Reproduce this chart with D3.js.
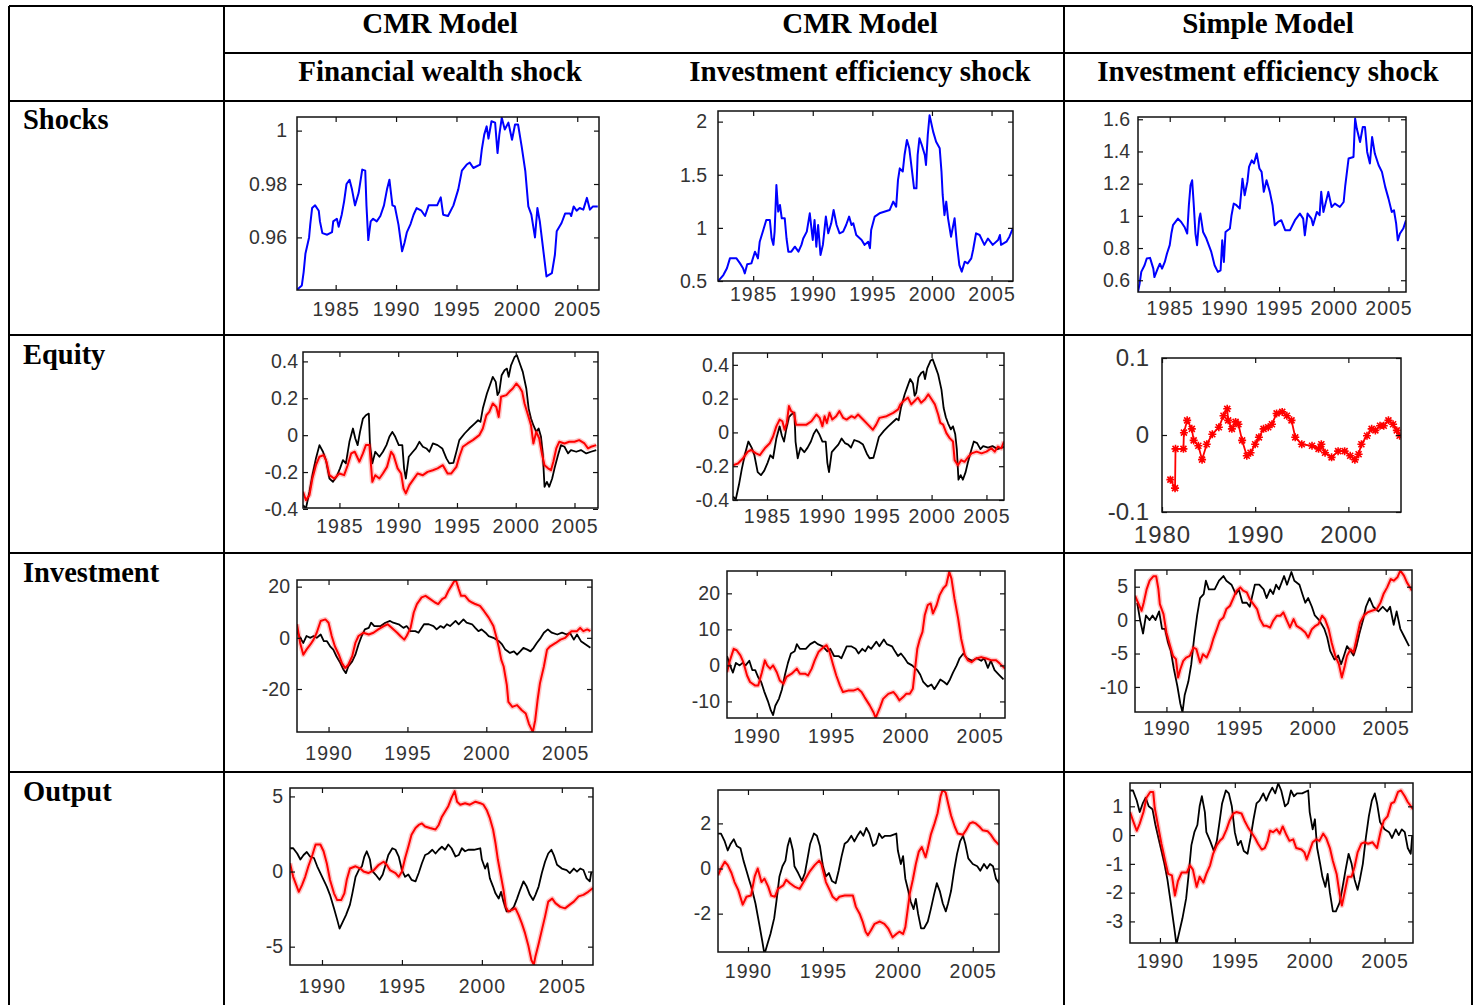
<!DOCTYPE html>
<html><head><meta charset="utf-8">
<script src="https://cdn.jsdelivr.net/npm/d3@7"></script>
<style>body{margin:0;background:#fff}</style>
</head><body>
<script>
// ---------------- DATA ----------------
const columnModels = ["CMR Model", "CMR Model", "Simple Model"];
const columnShocks = ["Financial wealth shock", "Investment efficiency shock", "Investment efficiency shock"];
const rowLabels = ["Shocks", "Equity", "Investment", "Output"];

const yearTicksShock = [1985, 1990, 1995, 2000, 2005];
const yearTicksMacro = [1990, 1995, 2000, 2005];
const yearTicksSimpleEquity = [1980, 1990, 2000];

// Shock series (blue)
const shockFinancialCMR = [[1981.8,.9404],[1982.2,.942],[1982.35,.947],[1982.5,.954],[1982.8,.960],[1982.9,.965],[1983.05,.971],[1983.3,.972],[1983.6,.970],[1983.7,.966],[1983.9,.9616],[1984.3,.961],[1984.7,.962],[1984.8,.966],[1985.1,.967],[1985.25,.964],[1985.5,.9685],[1985.7,.9735],[1985.9,.980],[1986.15,.9816],[1986.35,.978],[1986.6,.972],[1986.9,.9766],[1987.2,.9854],[1987.45,.985],[1987.55,.972],[1987.7,.959],[1987.9,.966],[1988.1,.967],[1988.4,.966],[1988.7,.968],[1989,.972],[1989.25,.978],[1989.45,.9816],[1989.7,.972],[1989.9,.9716],[1990.2,.9648],[1990.5,.9548],[1990.7,.958],[1990.9,.962],[1991.2,.965],[1991.45,.9685],[1991.7,.971],[1992.1,.970],[1992.4,.968],[1992.7,.972],[1993.4,.972],[1993.7,.975],[1993.9,.9685],[1994.3,.968],[1994.75,.972],[1995.15,.978],[1995.45,.985],[1995.85,.9873],[1996.1,.988],[1996.4,.986],[1996.95,.9873],[1997.1,.993],[1997.3,.9985],[1997.5,1.0016],[1997.65,.997],[1997.9,1.0035],[1998.2,1.003],[1998.4,.9916],[1998.55,.9985],[1998.75,1.0048],[1999,1.0004],[1999.3,1.003],[1999.6,.9966],[1999.85,1.0023],[2000.1,1.0023],[2000.4,.994],[2000.7,.9848],[2000.95,.9716],[2001.2,.9685],[2001.5,.960],[2001.7,.971],[2001.9,.966],[2002.2,.9548],[2002.45,.9454],[2002.9,.9466],[2003.15,.9535],[2003.3,.9623],[2003.7,.9654],[2004,.969],[2004.4,.969],[2004.5,.968],[2004.7,.9716],[2004.95,.970],[2005.2,.971],[2005.5,.9704],[2005.8,.9748],[2006.05,.9704],[2006.3,.9716],[2006.7,.9716]];

const shockInvestCMR = [[1982.07,.5],[1982.5,.556],[1982.8,.62],[1983.05,.713],[1983.6,.713],[1983.9,.666],[1984.15,.62],[1984.3,.572],[1984.5,.657],[1984.85,.666],[1985.15,.776],[1985.4,.713],[1985.55,.87],[1985.85,.98],[1986.1,1.074],[1986.4,1.074],[1986.55,.9],[1986.7,.84],[1986.8,.965],[1986.95,1.404],[1987.1,1.153],[1987.25,1.215],[1987.4,1.09],[1987.65,1.09],[1987.8,.9],[1987.95,.776],[1988.2,.776],[1988.5,.823],[1988.8,.776],[1989.05,.84],[1989.2,.9],[1989.5,.965],[1989.75,1.137],[1990,.886],[1990.15,1.074],[1990.3,.823],[1990.45,1.027],[1990.65,.745],[1990.85,.84],[1991.1,1.106],[1991.3,.949],[1991.55,1.043],[1991.75,1.168],[1992,1.027],[1992.25,.949],[1992.55,.965],[1992.8,1.027],[1993.05,1.106],[1993.25,1.027],[1993.4,1.043],[1993.65,.933],[1994.1,.886],[1994.35,.84],[1994.65,.87],[1994.8,.808],[1994.9,.98],[1995.2,1.106],[1995.6,1.137],[1996.45,1.168],[1996.75,1.247],[1997,1.2],[1997.15,1.45],[1997.3,1.56],[1997.55,1.53],[1997.7,1.686],[1997.9,1.827],[1998.1,1.749],[1998.3,1.56],[1998.5,1.372],[1998.7,1.372],[1998.8,1.686],[1998.95,1.843],[1999.15,1.78],[1999.4,1.686],[1999.5,1.592],[1999.65,1.874],[1999.8,2.06],[2000.1,1.906],[2000.35,1.81],[2000.65,1.749],[2000.8,1.53],[2000.9,1.31],[2001.05,1.12],[2001.2,1.247],[2001.35,1.09],[2001.6,.917],[2001.9,1.09],[2002.1,.84],[2002.3,.65],[2002.5,.588],[2002.75,.682],[2003,.666],[2003.3,.713],[2003.45,.792],[2003.7,.949],[2004,.933],[2004.4,.84],[2004.7,.9],[2005.1,.84],[2005.55,.886],[2005.7,.933],[2005.8,.84],[2006.25,.87],[2006.5,.917],[2006.8,1.0]];

const shockInvestSimple = [[1982.1,.527],[1982.25,.58],[1982.4,.652],[1982.7,.693],[1982.9,.735],[1983.2,.739],[1983.5,.672],[1983.6,.62],[1983.9,.672],[1984.1,.703],[1984.3,.672],[1984.55,.714],[1984.75,.766],[1985,.818],[1985.15,.89],[1985.3,.942],[1985.75,.983],[1986.05,.962],[1986.35,.931],[1986.6,.89],[1986.75,1.066],[1986.9,1.19],[1987.05,1.221],[1987.2,1.066],[1987.35,.89],[1987.5,.818],[1987.7,.983],[1987.8,1.014],[1988.05,.9],[1988.35,.859],[1988.8,.776],[1989.1,.693],[1989.4,.652],[1989.65,.662],[1989.8,.848],[1989.95,.714],[1990.1,.9],[1990.5,.921],[1990.65,1.004],[1990.85,1.076],[1991.1,1.066],[1991.4,1.045],[1991.65,1.231],[1991.85,1.128],[1992.1,1.211],[1992.25,1.304],[1992.5,1.345],[1992.7,1.325],[1992.95,1.387],[1993.2,1.294],[1993.4,1.273],[1993.6,1.149],[1993.85,1.221],[1994.15,1.149],[1994.4,1.066],[1994.6,.942],[1994.9,.962],[1995.2,.973],[1995.55,.911],[1996,.911],[1996.45,.973],[1996.9,1.014],[1997.2,.983],[1997.35,.879],[1997.6,1.014],[1997.95,.983],[1998.1,.942],[1998.45,1.024],[1998.7,1.004],[1998.85,1.149],[1999.05,1.024],[1999.35,1.107],[1999.5,1.149],[1999.8,1.055],[2000.1,1.076],[2000.55,1.055],[2000.9,1.086],[2001.05,1.19],[2001.35,1.356],[2001.8,1.366],[2001.9,1.532],[2001.95,1.604],[2002.1,1.542],[2002.4,1.459],[2002.65,1.552],[2002.85,1.552],[2003.05,1.397],[2003.3,1.325],[2003.5,1.49],[2003.75,1.387],[2004.1,1.314],[2004.4,1.273],[2004.7,1.18],[2005,1.107],[2005.3,1.024],[2005.5,1.035],[2005.7,.952],[2005.85,.848],[2006.05,.89],[2006.35,.921],[2006.6,.973]];

// Equity: data (black) and model responses (red)
const equityData = [[1981.9,-.379],[1982.15,-.397],[1982.45,-.307],[1982.7,-.217],[1983,-.126],[1983.3,-.054],[1983.6,-.09],[1983.85,-.135],[1984.15,-.235],[1984.45,-.253],[1984.75,-.226],[1985.05,-.18],[1985.3,-.135],[1985.55,-.153],[1985.85,-.036],[1986.15,.036],[1986.35,-.018],[1986.55,-.054],[1986.75,.018],[1987,.09],[1987.25,.108],[1987.5,.117],[1987.6,-.054],[1987.8,-.153],[1988.05,-.09],[1988.4,-.117],[1988.7,-.09],[1989,-.054],[1989.25,-.009],[1989.5,.018],[1989.75,-.009],[1990.05,-.054],[1990.35,-.054],[1990.5,-.18],[1990.65,-.235],[1990.9,-.117],[1991.25,-.09],[1991.5,-.072],[1991.8,-.036],[1992.1,-.063],[1992.4,-.072],[1992.65,-.09],[1992.95,-.045],[1993.35,-.054],[1993.75,-.072],[1994.1,-.126],[1994.35,-.153],[1994.7,-.15],[1994.95,-.09],[1995.2,-.027],[1995.65,.009],[1996.05,.036],[1996.5,.063],[1996.8,.081],[1997,.072],[1997.2,.144],[1997.55,.226],[1997.8,.271],[1998.05,.316],[1998.3,.289],[1998.45,.217],[1998.6,.235],[1998.8,.325],[1999.05,.352],[1999.25,.361],[1999.4,.316],[1999.6,.379],[1999.9,.424],[2000.1,.433],[2000.4,.379],[2000.6,.343],[2000.9,.253],[2001.1,.144],[2001.3,.09],[2001.5,.054],[2001.75,.018],[2001.95,.036],[2002.15,-.009],[2002.3,-.099],[2002.45,-.28],[2002.65,-.253],[2002.85,-.28],[2003.1,-.235],[2003.3,-.18],[2003.6,-.108],[2003.85,-.054],[2004.15,-.063],[2004.45,-.099],[2004.7,-.081],[2005.15,-.09],[2005.55,-.081],[2006,-.099],[2006.4,-.09],[2006.85,-.081]];

const equityFinancialCMR = [[1981.9,-.307],[1982.15,-.352],[1982.45,-.325],[1982.7,-.235],[1983,-.163],[1983.3,-.117],[1983.65,-.108],[1983.9,-.144],[1984.15,-.217],[1984.55,-.235],[1985,-.208],[1985.4,-.217],[1985.7,-.163],[1986,-.099],[1986.3,-.09],[1986.5,-.117],[1986.7,-.144],[1987,-.099],[1987.25,-.054],[1987.55,-.054],[1987.8,-.253],[1988.05,-.217],[1988.4,-.235],[1988.7,-.208],[1989.05,-.172],[1989.4,-.09],[1989.6,-.108],[1989.95,-.18],[1990.25,-.208],[1990.45,-.289],[1990.65,-.316],[1990.95,-.271],[1991.25,-.244],[1991.65,-.208],[1992.1,-.217],[1992.5,-.199],[1992.95,-.19],[1993.35,-.18],[1993.8,-.163],[1994.2,-.208],[1994.5,-.208],[1994.95,-.172],[1995.2,-.117],[1995.5,-.063],[1995.9,-.045],[1996.35,-.027],[1996.9,0],[1997.2,.036],[1997.5,.108],[1997.75,.126],[1998.05,.172],[1998.35,.153],[1998.55,.099],[1998.75,.208],[1999.2,.217],[1999.45,.235],[1999.75,.253],[2000.05,.28],[2000.3,.262],[2000.55,.235],[2000.75,.172],[2001.05,.108],[2001.3,.054],[2001.5,-.045],[2001.75,.018],[2002,-.018],[2002.25,-.108],[2002.45,-.163],[2002.75,-.18],[2003,-.19],[2003.2,-.144],[2003.45,-.072],[2003.7,-.036],[2004.15,-.045],[2004.55,-.036],[2005,-.036],[2005.4,-.027],[2005.85,-.045],[2006.15,-.072],[2006.4,-.063],[2006.85,-.054]];

const equityInvestCMR = [[1981.9,-.194],[1982.35,-.184],[1982.8,-.154],[1983.25,-.114],[1983.55,-.104],[1984,-.124],[1984.35,-.134],[1984.8,-.094],[1985.25,-.064],[1985.55,-.024],[1985.85,.036],[1986.15,.076],[1986.4,.066],[1986.6,.016],[1986.8,.056],[1987,.156],[1987.2,.126],[1987.45,.116],[1987.65,.046],[1988.1,.046],[1988.6,.046],[1989.05,.066],[1989.5,.106],[1989.8,.086],[1990.05,.036],[1990.25,.096],[1990.45,.056],[1990.7,.116],[1990.95,.076],[1991.3,.096],[1991.6,.126],[1991.95,.086],[1992.25,.076],[1992.7,.096],[1993,.086],[1993.3,.106],[1993.75,.076],[1994.2,.046],[1994.65,.016],[1994.95,.046],[1995.25,.086],[1995.9,.096],[1996.5,.116],[1996.95,.136],[1997.15,.166],[1997.45,.186],[1997.85,.206],[1998.15,.166],[1998.45,.186],[1998.75,.206],[1999.05,.176],[1999.4,.196],[1999.7,.226],[2000,.196],[2000.3,.166],[2000.6,.106],[2000.8,.056],[2001.05,.046],[2001.35,-.004],[2001.65,-.034],[2001.95,-.054],[2002.1,-.164],[2002.4,-.194],[2002.7,-.164],[2003,-.174],[2003.35,-.144],[2003.65,-.124],[2004.1,-.114],[2004.55,-.124],[2005,-.114],[2005.45,-.094],[2005.75,-.114],[2006.05,-.084],[2006.35,-.094],[2006.6,-.054]];

const equitySimple = [[1980.9,-.058],[1981.4,-.069],[1981.45,-.018],[1982.3,-.018],[1982.35,.003],[1982.7,.019],[1983.2,.008],[1983.4,-.007],[1983.9,-.014],[1984.3,-.032],[1984.8,-.012],[1985.4,.001],[1986.1,.01],[1986.6,.025],[1987,.034],[1987.1,.019],[1987.5,.008],[1987.9,.017],[1988.2,.014],[1988.6,-.007],[1989.1,-.027],[1989.5,-.023],[1990,-.012],[1990.4,-.003],[1990.9,.008],[1991.4,.01],[1991.8,.014],[1992.3,.028],[1992.9,.03],[1993.4,.025],[1993.9,.019],[1994.3,-.003],[1995,-.012],[1996.1,-.014],[1996.8,-.018],[1997.1,-.012],[1997.5,-.023],[1998.2,-.029],[1998.9,-.021],[1999.6,-.021],[2000.2,-.027],[2000.7,-.032],[2001.1,-.025],[2001.4,-.012],[2002,-.001],[2002.5,.008],[2002.9,.006],[2003.4,.012],[2003.8,.012],[2004.3,.019],[2004.8,.014],[2005.2,.006],[2005.5,-.001]];

// Investment: data (black) and model responses (red)
const investmentData = [[1988,2.6],[1988.2,0],[1988.4,-2],[1988.6,.7],[1988.85,0],[1989.05,.7],[1989.25,0],[1989.5,1.3],[1989.7,-1.3],[1989.9,-1.3],[1990.1,-3.3],[1990.3,-4.6],[1990.5,-7.2],[1990.75,-9.9],[1990.95,-12.5],[1991.1,-13.8],[1991.25,-11.2],[1991.5,-9.2],[1991.7,-6.6],[1991.9,-2.6],[1992.1,.7],[1992.3,3.3],[1992.55,3.9],[1992.7,5.9],[1992.9,4.6],[1993.3,4.6],[1993.6,5.9],[1993.9,6.6],[1994.1,5.9],[1994.45,5.3],[1994.75,3.9],[1994.95,4.6],[1995.2,2.6],[1995.5,2.6],[1995.7,2],[1996.05,5.3],[1996.35,5.3],[1996.65,4.6],[1996.85,3.3],[1997.1,4.6],[1997.3,3.9],[1997.5,5.3],[1997.7,4.6],[1998.05,6.6],[1998.25,5.3],[1998.55,7.2],[1998.75,5.9],[1999.1,5.3],[1999.3,3.9],[1999.5,2.6],[1999.7,3.3],[1999.95,2],[2000.15,.7],[2000.45,0],[2000.8,-1.3],[2001,-2.6],[2001.2,-4.6],[2001.5,-5.9],[2001.75,-5.3],[2001.95,-6.6],[2002.15,-5.3],[2002.35,-3.9],[2002.6,-4.6],[2002.8,-5.3],[2003,-3.9],[2003.2,-2],[2003.45,0],[2003.65,2],[2003.9,3.3],[2004.15,2],[2004.5,1.3],[2004.8,2],[2005.1,1.3],[2005.3,2],[2005.55,-.7],[2005.75,1.3],[2006,-1.3],[2006.3,-2.6],[2006.6,-3.9]];

const investmentFinancialCMR = [[1988,5.3],[1988.2,-2],[1988.4,-6.6],[1988.6,-4.6],[1988.85,-2.6],[1989.05,-.7],[1989.25,2],[1989.5,6.6],[1989.8,7.2],[1990,5.9],[1990.2,.7],[1990.4,-3.3],[1990.65,-6.6],[1990.85,-9.9],[1991.05,-11.8],[1991.25,-10.5],[1991.5,-7.2],[1991.7,-2],[1991.9,.7],[1992.2,2],[1992.55,1.3],[1992.85,2],[1993.15,3.3],[1993.5,4.6],[1993.75,5.3],[1994,3.9],[1994.35,2],[1994.55,.7],[1994.8,-.7],[1994.95,.7],[1995.2,3.9],[1995.4,9.9],[1995.6,13.2],[1995.9,15.8],[1996.15,16.4],[1996.45,15.1],[1996.75,13.8],[1996.95,13.2],[1997.2,15.1],[1997.4,15.8],[1997.6,18.4],[1997.8,20.4],[1998.05,23],[1998.25,19.1],[1998.4,16.4],[1998.65,16.4],[1998.9,14.5],[1999.1,13.8],[1999.3,13.2],[1999.6,12.5],[1999.85,10.5],[2000.15,7.9],[2000.45,4.6],[2000.65,0],[2000.8,-3.9],[2000.95,-8.6],[2001.1,-11.2],[2001.3,-18.4],[2001.4,-25],[2001.65,-27],[2001.95,-26.3],[2002.25,-28.3],[2002.5,-29.6],[2002.7,-33.6],[2002.95,-36.8],[2003.1,-32.2],[2003.25,-24.3],[2003.4,-17.8],[2003.65,-11.2],[2003.85,-4.6],[2004.05,-3.3],[2004.4,-2],[2004.7,-.7],[2005,0],[2005.2,1.3],[2005.4,2.6],[2005.75,2.6],[2005.95,3.9],[2006.15,2.6],[2006.4,3.3],[2006.6,2.6]];

const investmentInvestCMR = [[1988,-1.9],[1988.2,1.4],[1988.45,4.6],[1988.65,4.2],[1988.9,2.8],[1989.1,.9],[1989.35,-2.8],[1989.55,-4.6],[1989.9,-5.6],[1990.1,-5.6],[1990.35,-1.9],[1990.55,1.4],[1990.7,0],[1990.9,-.9],[1991.1,0],[1991.35,-1.9],[1991.55,-4.2],[1991.8,-5.1],[1992,-3.2],[1992.35,-2.3],[1992.7,-.9],[1992.9,-2.3],[1993.25,-2.3],[1993.45,-2.8],[1993.7,-.9],[1993.9,1.4],[1994.15,3.7],[1994.5,5.1],[1994.7,5.6],[1994.9,3.7],[1995.15,0],[1995.35,-2.8],[1995.6,-5.6],[1995.8,-7.4],[1996.15,-7],[1996.5,-7],[1996.8,-6.5],[1997.05,-7.4],[1997.25,-8.8],[1997.6,-11.1],[1997.85,-13],[1998,-14.6],[1998.3,-11.6],[1998.5,-9.3],[1998.85,-7.9],[1999.2,-7.4],[1999.4,-8.4],[1999.6,-9.7],[1999.85,-8.8],[2000.05,-7.9],[2000.3,-7.9],[2000.5,-6.5],[2000.6,-2.8],[2000.8,4.6],[2000.95,7],[2001.15,9.3],[2001.3,13.9],[2001.5,16.7],[2001.7,17.2],[2001.85,14.4],[2002.1,16.7],[2002.3,19.5],[2002.55,21.4],[2002.75,22.3],[2002.95,26],[2003.1,24.1],[2003.3,18.6],[2003.55,13],[2003.75,7.4],[2004,2.8],[2004.2,1.4],[2004.45,.9],[2004.75,1.9],[2005.1,2.3],[2005.45,1.9],[2005.8,1.4],[2006.1,1.4],[2006.35,.5],[2006.7,-.9]];

const investmentSimple = [[1987.85,3.65],[1988.05,2.65],[1988.3,1.4],[1988.45,2.65],[1988.65,4.65],[1988.85,5.9],[1989.1,6.55],[1989.3,6.55],[1989.45,4.65],[1989.55,2.4],[1989.8,.9],[1990,-1.85],[1990.25,-3.85],[1990.45,-5.35],[1990.65,-5.85],[1990.8,-8.6],[1990.95,-7.35],[1991.15,-6.1],[1991.35,-5.6],[1991.6,-5.35],[1991.85,-4.1],[1992.05,-4.35],[1992.3,-6.35],[1992.5,-5.1],[1992.75,-5.6],[1993,-4.35],[1993.2,-2.85],[1993.45,-1.35],[1993.65,-.1],[1993.9,.4],[1994.1,1.65],[1994.35,2.15],[1994.6,3.4],[1994.8,4.4],[1995.05,4.9],[1995.25,4.4],[1995.5,4.15],[1995.7,3.15],[1995.95,2.4],[1996.2,1.65],[1996.4,.15],[1996.65,-.85],[1996.85,-.85],[1997.1,-1.1],[1997.3,-.1],[1997.55,.65],[1997.8,.65],[1998,1.15],[1998.25,-.1],[1998.45,-1.1],[1998.7,.15],[1998.9,-.85],[1999.25,-1.35],[1999.5,-1.85],[1999.7,-2.6],[1999.95,-1.35],[2000.2,-.85],[2000.4,-.6],[2000.65,.65],[2000.85,.15],[2001.1,-1.35],[2001.3,-3.35],[2001.55,-5.35],[2001.8,-6.6],[2002,-8.6],[2002.2,-6.85],[2002.35,-5.35],[2002.6,-4.35],[2002.8,-4.85],[2003.05,-2.35],[2003.25,-.35],[2003.5,.65],[2003.75,1.15],[2004.05,1.4],[2004.4,1.65],[2004.65,2.65],[2004.85,3.9],[2005.1,4.9],[2005.35,6.15],[2005.55,5.9],[2005.8,6.4],[2006,7.4],[2006.25,6.65],[2006.45,5.65],[2006.8,4.4]];

// Output: data (black) and model responses (red)
const outputData = [[1988,1.55],[1988.2,1.55],[1988.45,1.2],[1988.65,.8],[1988.85,1.1],[1989.05,1.3],[1989.25,1],[1989.5,.9],[1989.7,.35],[1989.9,-.1],[1990.1,-.55],[1990.3,-1],[1990.5,-1.55],[1990.75,-2.45],[1990.95,-3.2],[1991.1,-3.8],[1991.3,-3.35],[1991.5,-2.9],[1991.75,-2.2],[1991.9,-1.45],[1992.1,-.35],[1992.3,.1],[1992.5,.35],[1992.65,1],[1992.8,1.35],[1993,.8],[1993.1,.1],[1993.35,-.2],[1993.6,-.55],[1993.8,-.2],[1993.95,.35],[1994.15,1.1],[1994.4,1.55],[1994.6,1.45],[1994.8,1],[1995,.1],[1995.2,-.35],[1995.4,-.2],[1995.6,-.55],[1995.85,-.65],[1996.05,-.1],[1996.25,.55],[1996.45,1.1],[1996.65,1.2],[1996.9,1.45],[1997.1,1.2],[1997.3,1.45],[1997.5,1.65],[1997.7,1.45],[1997.9,1.8],[1998.1,1.55],[1998.35,1],[1998.55,1.1],[1998.75,1.55],[1998.95,1.35],[1999.15,1.45],[1999.5,1.45],[1999.9,1.55],[2000,.8],[2000.2,.2],[2000.35,.55],[2000.5,-.45],[2000.7,-1],[2000.85,-1.45],[2001.05,-1.8],[2001.2,-1.35],[2001.35,-2],[2001.55,-2.65],[2001.75,-2.65],[2002,-2.35],[2002.2,-1.8],[2002.4,-1.2],[2002.6,-.65],[2002.8,-1],[2003,-1.55],[2003.2,-1.9],[2003.35,-1.55],[2003.55,-1],[2003.75,-.1],[2003.95,.65],[2004.15,1.2],[2004.35,1.45],[2004.5,1.1],[2004.7,.45],[2005,.2],[2005.3,.1],[2005.5,-.1],[2005.75,.2],[2005.95,0],[2006.15,.2],[2006.35,.1],[2006.55,-.45],[2006.75,-.65],[2006.85,0]];

const outputFinancialCMR = [[1988,.55],[1988.2,-.35],[1988.55,-1.35],[1988.75,-.9],[1988.95,-.35],[1989.15,.35],[1989.4,1.1],[1989.6,1.8],[1989.9,1.8],[1990.1,1.35],[1990.3,.55],[1990.5,-.55],[1990.75,-1.45],[1990.95,-1.9],[1991.2,-1.9],[1991.4,-1.45],[1991.55,-.55],[1991.75,.2],[1992.1,.35],[1992.4,.2],[1992.6,0],[1992.9,-.1],[1993.25,.1],[1993.55,.45],[1993.85,.65],[1994.05,.45],[1994.25,.1],[1994.6,-.1],[1994.8,-.35],[1995,0],[1995.2,.9],[1995.4,1.65],[1995.6,2.45],[1995.85,2.9],[1996.05,3.1],[1996.25,3.2],[1996.45,3],[1996.75,2.9],[1997.1,2.8],[1997.3,3.1],[1997.5,3.65],[1997.7,4],[1997.9,4.35],[1998.1,4.9],[1998.3,5.35],[1998.45,4.65],[1998.65,4.45],[1998.95,4.55],[1999.25,4.45],[1999.6,4.65],[1999.9,4.55],[2000.1,4.45],[2000.3,4.1],[2000.5,3.55],[2000.7,2.8],[2000.85,1.9],[2001,.8],[2001.2,-.35],[2001.35,-1.2],[2001.5,-2.35],[2001.65,-2.65],[2001.9,-2.55],[2002.1,-2.45],[2002.3,-2.9],[2002.5,-3.45],[2002.7,-4.1],[2002.9,-4.9],[2003.1,-5.9],[2003.25,-6.2],[2003.35,-5.65],[2003.55,-4.8],[2003.75,-3.9],[2003.95,-3],[2004.15,-2],[2004.4,-1.8],[2004.6,-2.1],[2004.9,-2.35],[2005.2,-2.45],[2005.5,-2.2],[2005.75,-2],[2006.05,-1.65],[2006.35,-1.55],[2006.65,-1.35],[2006.95,-1.1]];

const outputInvestCMR = [[1988,-.3],[1988.2,0],[1988.45,.3],[1988.65,.15],[1988.9,-.2],[1989.1,-.6],[1989.35,-.95],[1989.65,-1.6],[1989.9,-1.25],[1990.2,-1.2],[1990.45,-.35],[1990.65,0],[1990.9,-.6],[1991.1,-.45],[1991.35,-.8],[1991.55,-1.2],[1991.8,-1.25],[1992,-.9],[1992.35,-.75],[1992.55,-.5],[1992.8,-.65],[1993.1,-.8],[1993.45,-.9],[1993.8,-.5],[1994.1,-.15],[1994.45,.15],[1994.75,.35],[1994.9,.2],[1995.05,-.2],[1995.2,-.6],[1995.45,-.95],[1995.65,-1.25],[1995.9,-1.4],[1996.1,-1.25],[1996.45,-1.2],[1996.8,-1.2],[1997,-1.2],[1997.2,-1.7],[1997.45,-2],[1997.65,-2.35],[1997.85,-2.8],[1998,-2.95],[1998.2,-2.75],[1998.45,-2.45],[1998.8,-2.35],[1999.1,-2.45],[1999.35,-2.65],[1999.65,-3.05],[1999.9,-2.9],[2000.1,-2.8],[2000.35,-2.9],[2000.5,-2.6],[2000.65,-1.85],[2000.8,-1.1],[2001,-.5],[2001.2,.2],[2001.4,.75],[2001.6,.95],[2001.85,.5],[2002,.9],[2002.2,1.5],[2002.45,2],[2002.65,2.45],[2002.85,3.2],[2003,3.5],[2003.2,3.35],[2003.35,2.9],[2003.55,2.35],[2003.8,1.85],[2004,1.55],[2004.35,1.5],[2004.55,1.7],[2004.8,2],[2005,2.05],[2005.2,2],[2005.45,1.85],[2005.65,1.7],[2006,1.65],[2006.2,1.5],[2006.45,1.25],[2006.75,1.05]];

const outputSimple = [[1988,.8],[1988.2,.5],[1988.45,.15],[1988.65,.4],[1988.9,.8],[1989.1,1.3],[1989.35,1.5],[1989.55,1.5],[1989.65,.95],[1989.9,.25],[1990.1,-.3],[1990.35,-.9],[1990.55,-1.35],[1990.8,-1.4],[1991,-2.1],[1991.2,-1.6],[1991.45,-1.3],[1991.8,-1.3],[1992,-1.05],[1992.2,-1.2],[1992.45,-1.8],[1992.65,-1.45],[1992.9,-1.65],[1993.1,-1.35],[1993.35,-1.05],[1993.55,-.65],[1993.8,-.35],[1994,-.2],[1994.2,-.1],[1994.45,.2],[1994.65,.5],[1994.9,.75],[1995.1,.8],[1995.45,.75],[1995.65,.5],[1995.9,.25],[1996.1,.1],[1996.35,-.1],[1996.55,-.3],[1996.8,-.5],[1997,-.45],[1997.2,-.2],[1997.35,.15],[1997.55,.1],[1997.8,.2],[1998,.05],[1998.2,.3],[1998.45,0],[1998.65,-.2],[1998.9,-.15],[1999.1,-.45],[1999.45,-.5],[1999.65,-.6],[1999.8,-.85],[2000,-.55],[2000.2,-.25],[2000.45,-.15],[2000.65,-.2],[2000.9,.05],[2001.1,-.1],[2001.35,-.45],[2001.55,-.9],[2001.8,-1.35],[2002,-2.05],[2002.15,-2.45],[2002.35,-1.95],[2002.55,-1.45],[2002.8,-1.45],[2003,-1.1],[2003.2,-.6],[2003.45,-.3],[2003.65,-.25],[2003.9,-.3],[2004.2,-.25],[2004.5,-.45],[2004.75,.15],[2004.95,.5],[2005.2,.65],[2005.45,1.1],[2005.65,1.15],[2005.9,1.5],[2006.1,1.55],[2006.35,1.35],[2006.55,1.15],[2006.9,.9]];

// ---------------- DRAWING ----------------
const W = 1479, H = 1005;
const BLUE = "#0000ff", RED = "#ff0000", BLACK = "#000000";
const svg = d3.select("body").append("svg").attr("width", W).attr("height", H).style("display", "block");
svg.append("rect").attr("width", W).attr("height", H).attr("fill", "#fff");

// table grid
const grid = svg.append("g").attr("stroke", "#000").attr("stroke-width", 1.6).attr("shape-rendering", "crispEdges");
[[9, 1472, 6], [224, 1472, 53], [9, 1472, 101], [9, 1472, 335], [9, 1472, 553], [9, 1472, 772]].forEach(([x1, x2, y]) =>
  grid.append("line").attr("x1", x1).attr("x2", x2).attr("y1", y).attr("y2", y));
[[9, 6, 1005], [224, 6, 1005], [1064, 6, 1005], [1472, 6, 1005]].forEach(([x, y1, y2]) =>
  grid.append("line").attr("x1", x).attr("x2", x).attr("y1", y1).attr("y2", y2));

const serif = "'Liberation Serif','Times New Roman',serif";
const headerX = [440, 860, 1268];
columnModels.forEach((t, i) => svg.append("text").attr("x", headerX[i]).attr("y", 33).attr("text-anchor", "middle")
  .attr("font-family", serif).attr("font-weight", "bold").attr("font-size", 29).text(t));
columnShocks.forEach((t, i) => svg.append("text").attr("x", headerX[i]).attr("y", 81).attr("text-anchor", "middle")
  .attr("font-family", serif).attr("font-weight", "bold").attr("font-size", 29).text(t));
const rowY = [129, 364, 582, 801];
rowLabels.forEach((t, i) => svg.append("text").attr("x", 23).attr("y", rowY[i])
  .attr("font-family", serif).attr("font-weight", "bold").attr("font-size", 28.5).text(t));

let clipCount = 0;
function drawPanel(p) {
  const [L, T, R, B] = p.box;
  const x = d3.scaleLinear().domain(p.xDomain).range([L, R]);
  const y = d3.scaleLinear().domain(p.yDomain).range([B, T]);
  const g = svg.append("g");
  const id = "clip" + (clipCount++);
  g.append("clipPath").attr("id", id).append("rect").attr("x", L).attr("y", T).attr("width", R - L).attr("height", B - T);
  const plot = g.append("g").attr("clip-path", `url(#${id})`);
  const line = d3.line().x(d => x(d[0])).y(d => y(d[1]));
  p.series.forEach(s => {
    if (s.halo) plot.append("path").datum(s.data).attr("d", line).attr("fill", "none")
      .attr("stroke", s.color).attr("stroke-opacity", 0.22).attr("stroke-width", 5).attr("stroke-linejoin", "round");
    plot.append("path").datum(s.data).attr("d", line).attr("fill", "none")
      .attr("stroke", s.color).attr("stroke-width", s.width).attr("stroke-linejoin", "round");
    if (s.markers) {
      plot.selectAll(null).data(s.data).join("path")
        .attr("transform", d => `translate(${x(d[0])},${y(d[1])})`)
        .attr("d", "M-4,0H4M0,-4V4M-3,-3L3,3M-3,3L3,-3")
        .attr("stroke", s.color).attr("stroke-width", 1.6).attr("fill", "none");
    }
  });
  const fs = p.fontSize || 19.5;
  const fmt = d => String(d);
  const font = "'Liberation Sans',Arial,sans-serif";
  const tick = 5;
  // bottom
  const xb = g.append("g").attr("transform", `translate(0,${B})`)
    .call(d3.axisBottom(x).tickValues(p.xTicks).tickFormat(fmt).tickSizeInner(-tick).tickSizeOuter(0));
  xb.select(".domain").remove();
  xb.attr("font-family", font).attr("font-size", fs);
  xb.selectAll("text").attr("y", p.xLabelOffset).attr("dy", null).attr("fill", "#333")
    .attr("letter-spacing", p.xSpacing == null ? 1 : p.xSpacing);
  // top
  const xt = g.append("g").attr("transform", `translate(0,${T})`)
    .call(d3.axisTop(x).tickValues(p.xTicks).tickFormat("").tickSizeInner(-tick).tickSizeOuter(0));
  xt.select(".domain").remove();
  // left
  const yl = g.append("g").attr("transform", `translate(${L},0)`)
    .call(d3.axisLeft(y).tickValues(p.yTicks).tickFormat(fmt).tickSizeInner(-tick).tickSizeOuter(0).tickPadding(p.yGap));
  yl.select(".domain").remove();
  yl.attr("font-family", font).attr("font-size", fs);
  yl.selectAll("text").attr("fill", "#333");
  // right
  const yr = g.append("g").attr("transform", `translate(${R},0)`)
    .call(d3.axisRight(y).tickValues(p.yTicks).tickFormat("").tickSizeInner(-tick).tickSizeOuter(0));
  yr.select(".domain").remove();
  g.selectAll(".tick line").attr("stroke", "#111").attr("stroke-width", 1.2);
  g.append("rect").attr("x", L).attr("y", T).attr("width", R - L).attr("height", B - T)
    .attr("fill", "none").attr("stroke", "#111").attr("stroke-width", 1.5);
}

const panels = [
  { box: [297, 117, 599, 290], xDomain: [1981.8, 2006.8], yDomain: [0.9403, 1.0051], xTicks: yearTicksShock, yTicks: [0.96, 0.98, 1],
    xLabelOffset: 26, yGap: 10, series: [{ data: shockFinancialCMR, color: BLUE, width: 2 }] },
  { box: [718, 111, 1013, 281], xDomain: [1982.05, 2006.8], yDomain: [0.5, 2.1], xTicks: yearTicksShock, yTicks: [0.5, 1, 1.5, 2],
    xLabelOffset: 20, yGap: 11, series: [{ data: shockInvestCMR, color: BLUE, width: 2 }] },
  { box: [1138, 117, 1406, 292], xDomain: [1982.1, 2006.6], yDomain: [0.527, 1.614], xTicks: yearTicksShock, yTicks: [0.6, 0.8, 1, 1.2, 1.4, 1.6],
    xLabelOffset: 23, yGap: 8, series: [{ data: shockInvestSimple, color: BLUE, width: 2 }] },
  { box: [303, 352, 598, 508], xDomain: [1981.9, 2007], yDomain: [-0.395, 0.451], xTicks: yearTicksShock, yTicks: [-0.4, -0.2, 0, 0.2, 0.4],
    xLabelOffset: 25, yGap: 5, series: [{ data: equityData, color: BLACK, width: 1.8 }, { data: equityFinancialCMR, color: RED, width: 2, halo: true }] },
  { box: [733, 353, 1004, 500], xDomain: [1981.9, 2006.6], yDomain: [-0.4, 0.47], xTicks: yearTicksShock, yTicks: [-0.4, -0.2, 0, 0.2, 0.4],
    xLabelOffset: 23, yGap: 4, series: [{ data: equityData, color: BLACK, width: 1.8 }, { data: equityInvestCMR, color: RED, width: 2, halo: true }] },
  { box: [1162, 358, 1401, 512], xDomain: [1980, 2005.65], yDomain: [-0.1, 0.1], xTicks: yearTicksSimpleEquity, yTicks: [-0.1, 0, 0.1],
    xLabelOffset: 31, yGap: 13, fontSize: 24, xSpacing: 1, series: [{ data: equitySimple, color: RED, width: 1.8, markers: true }] },
  { box: [297, 580, 592, 732], xDomain: [1988, 2006.7], yDomain: [-36.8, 22.6], xTicks: yearTicksMacro, yTicks: [-20, 0, 20],
    xLabelOffset: 28, yGap: 7, series: [{ data: investmentData, color: BLACK, width: 1.8 }, { data: investmentFinancialCMR, color: RED, width: 2, halo: true }] },
  { box: [727, 571, 1005, 718], xDomain: [1988, 2006.7], yDomain: [-14.6, 26.2], xTicks: yearTicksMacro, yTicks: [-10, 0, 10, 20],
    xLabelOffset: 25, yGap: 7, series: [{ data: investmentData, color: BLACK, width: 1.8 }, { data: investmentInvestCMR, color: RED, width: 2, halo: true }] },
  { box: [1135, 570, 1412, 712], xDomain: [1987.85, 2006.8], yDomain: [-13.75, 7.5], xTicks: yearTicksMacro, yTicks: [-10, -5, 0, 5],
    xLabelOffset: 23, yGap: 7, series: [{ data: investmentData, color: BLACK, width: 1.8 }, { data: investmentSimple, color: RED, width: 2, halo: true }] },
  { box: [290, 788, 593, 965], xDomain: [1988, 2006.95], yDomain: [-6.22, 5.56], xTicks: yearTicksMacro, yTicks: [-5, 0, 5],
    xLabelOffset: 28, yGap: 7, series: [{ data: outputData, color: BLACK, width: 1.8 }, { data: outputFinancialCMR, color: RED, width: 2, halo: true }] },
  { box: [718, 790, 999, 952], xDomain: [1988, 2006.75], yDomain: [-3.7, 3.48], xTicks: yearTicksMacro, yTicks: [-2, 0, 2],
    xLabelOffset: 26, yGap: 7, series: [{ data: outputData, color: BLACK, width: 1.8 }, { data: outputInvestCMR, color: RED, width: 2, halo: true }] },
  { box: [1130, 783, 1413, 943], xDomain: [1988, 2006.9], yDomain: [-3.75, 1.81], xTicks: yearTicksMacro, yTicks: [-3, -2, -1, 0, 1],
    xLabelOffset: 25, yGap: 7, series: [{ data: outputData, color: BLACK, width: 1.8 }, { data: outputSimple, color: RED, width: 2, halo: true }] }
];
panels.forEach(drawPanel);
</script>
</body></html>
